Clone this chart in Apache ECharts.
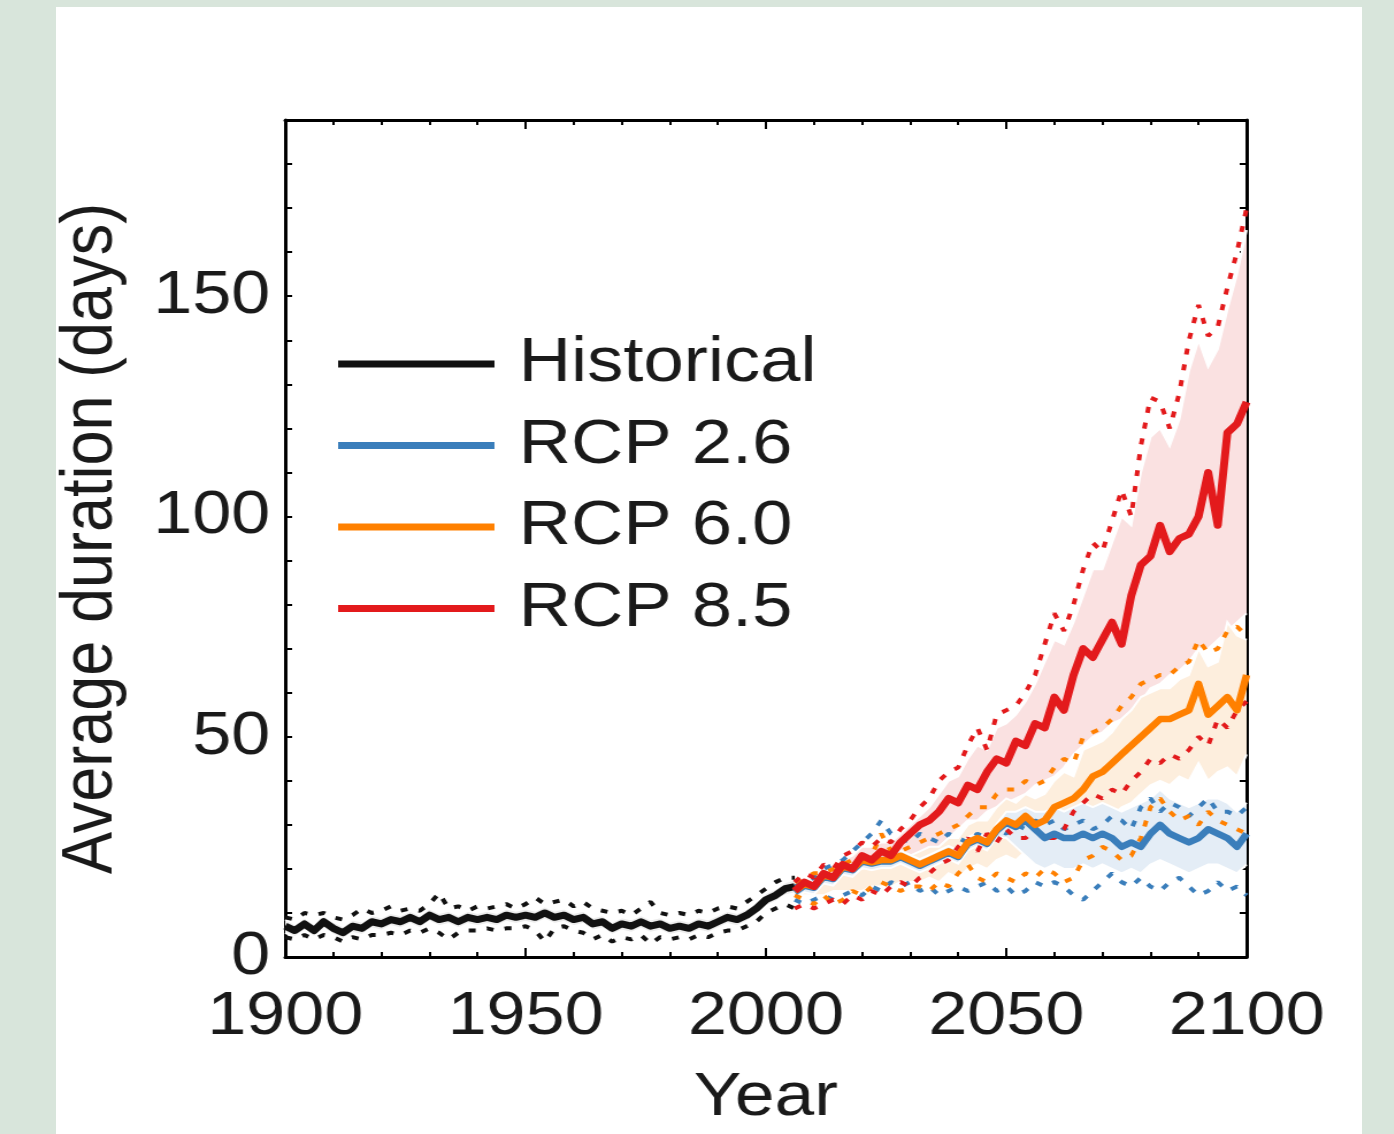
<!DOCTYPE html>
<html>
<head>
<meta charset="utf-8">
<script src="https://cdn.jsdelivr.net/npm/echarts@6/dist/echarts.min.js"></script>
<style>
  html, body { margin: 0; padding: 0; background: #d8e5db; width: 1394px; height: 1134px; overflow: hidden; }
  #panel { position: absolute; left: 56px; top: 7px; width: 1306px; height: 1127px; background: #fff; }
  /* the source figure is stretched sideways, so the chart is drawn narrower and scaled */
  #chart { position: absolute; left: 0; top: 0; width: 1212px; height: 1134px; transform: scaleX(1.15); transform-origin: 0 0; }
</style>
</head>
<body>
<div id="panel"></div>
<div id="chart"></div>
<script>
// ---- data ----
const histYears = [1900, 1902, 1904, 1906, 1908, 1910, 1912, 1914, 1916, 1918, 1920, 1922, 1924, 1926, 1928, 1930, 1932, 1934, 1936, 1938, 1940, 1942, 1944, 1946, 1948, 1950, 1952, 1954, 1956, 1958, 1960, 1962, 1964, 1966, 1968, 1970, 1972, 1974, 1976, 1978, 1980, 1982, 1984, 1986, 1988, 1990, 1992, 1994, 1996, 1998, 2000, 2002, 2004, 2006];
const histMean = [7, 6, 7.5, 6, 8, 6.5, 5.5, 7, 6.5, 8, 7.5, 8.5, 8, 9, 8, 9.5, 8.5, 9, 8, 9, 8.5, 9, 8.5, 9.5, 9, 9.5, 9, 10, 9, 9.5, 8.5, 9, 7.5, 8, 6.5, 7.5, 7, 8, 7, 7.5, 6.5, 7, 6.5, 7.5, 7, 8, 9, 8.5, 9.5, 11, 13, 14, 15.5, 16];
const histHigh = [9, 8.5, 10, 9.5, 10, 9, 8.5, 9.5, 11, 10, 10.5, 11.5, 10.5, 11, 10.5, 12, 14.5, 11, 11.5, 10.5, 11.5, 11, 11.5, 12, 11, 12, 13.5, 12, 12.5, 13, 11.5, 12.5, 11, 10.5, 10, 10.5, 9.5, 11, 12.5, 10, 9.5, 10, 9.5, 10.5, 10, 11, 11.5, 11, 12.5, 14, 15.5, 17, 18, 18];
const histLow = [4.5, 4, 5, 4, 5, 4.5, 3.5, 4.5, 4, 5, 5, 5.5, 5, 6, 5.5, 6.5, 5.5, 4, 5.5, 6, 6, 6.5, 6, 6.5, 6.5, 7, 6, 3.5, 6.5, 7, 6, 5.5, 4, 5, 3.5, 4.5, 4, 5, 3, 4.5, 4, 4.5, 4, 5, 4.5, 5.5, 6, 6, 7, 8, 10, 11, 12, 11];
const histBandHigh = [8.5, 7.5, 9, 7.5, 9.5, 8, 7, 8.5, 8, 9.5, 9, 10, 9.5, 10.5, 9.5, 11, 10, 10.5, 9.5, 10.5, 10, 10.5, 10, 11, 10.5, 11, 10.5, 11.5, 10.5, 11, 10, 10.5, 9, 9.5, 8, 9, 8.5, 9.5, 8.5, 9, 8, 8.5, 8, 9, 8.5, 9.5, 10.5, 10, 11, 12.5, 14.5, 15.5, 17, 17.5];
const histBandLow = [5.5, 4.5, 6, 4.5, 6.5, 5, 4, 5.5, 5, 6.5, 6, 7, 6.5, 7.5, 6.5, 8, 7, 7.5, 6.5, 7.5, 7, 7.5, 7, 8, 7.5, 8, 7.5, 8.5, 7.5, 8, 7, 7.5, 6, 6.5, 5, 6, 5.5, 6.5, 5.5, 6, 5, 5.5, 5, 6, 5.5, 6.5, 7.5, 7, 8, 9.5, 11.5, 12.5, 14, 14.5];

const futureYears = [2006, 2008, 2010, 2012, 2014, 2016, 2018, 2020, 2022, 2024, 2026, 2028, 2030, 2032, 2034, 2036, 2038, 2040, 2042, 2044, 2046, 2048, 2050, 2052, 2054, 2056, 2058, 2060, 2062, 2064, 2066, 2068, 2070, 2072, 2074, 2076, 2078, 2080, 2082, 2084, 2086, 2088, 2090, 2092, 2094, 2096, 2098, 2100];

// RCP 8.5
const rcp85Mean = [15, 17, 16, 19, 18, 21, 20, 23, 22, 24, 23, 26, 28, 30, 31, 33, 36, 35, 39, 38, 42, 45, 44, 49, 48, 53, 52, 59, 56, 64, 70, 68, 72, 76, 71, 82, 89, 91, 98, 92, 95, 96, 100, 110, 98, 119, 121, 126];
const rcp85BandHigh = [16, 18, 18, 20, 20, 22, 23, 25, 25, 26, 26, 28, 30, 32, 34, 37, 40, 41, 45, 48, 47, 52, 53, 55, 58, 62, 67, 72, 71, 76, 82, 88, 88, 94, 100, 98, 110, 118, 120, 116, 122, 133, 140, 134, 138, 147, 155, 165];
const rcp85BandLow = [13, 14, 14, 15, 16, 16, 17, 17, 18, 18, 19, 20, 21, 22, 23, 25, 27, 29, 31, 31, 33, 34, 35, 36, 37, 39, 40, 41, 43, 46, 48, 50, 51, 53, 54, 56, 58, 61, 62, 64, 65, 67, 70, 70, 72, 74, 76, 78];
const rcp85Max = [17, 19, 18, 21, 20, 23, 24, 26, 25, 27, 26, 29, 31, 34, 36, 40, 42, 43, 48, 52, 47, 55, 56, 57, 60, 64, 71, 78, 74, 80, 88, 94, 92, 99, 106, 100, 116, 127, 126, 120, 128, 140, 148, 141, 143, 152, 160, 170];
const rcp85Min = [11, 12, 11, 12, 13, 12, 14, 13, 15, 14, 16, 17, 16, 18, 19, 21, 22, 25, 27, 24, 28, 26, 29, 27, 27, 29, 27, 27, 29, 33, 35, 37, 36, 38, 37, 40, 42, 45, 44, 46, 45, 47, 50, 48, 54, 52, 56, 58];

// RCP 6.0
const rcp60Mean = [15, 16.5, 16, 18.5, 18, 20.5, 20, 22, 21.5, 22, 22, 23, 22, 21, 22, 23, 24, 23, 26, 27, 26, 29, 31, 30, 32, 30, 31, 34, 35, 36, 38, 41, 42, 44, 46, 48, 50, 52, 54, 54, 55, 56, 62, 55, 57, 59, 56, 64];
const rcp60BandHigh = [16, 17, 17, 18, 18, 19, 20, 20, 21, 21, 22, 22, 23, 24, 25, 25, 27, 27, 30, 31, 31, 34, 36, 35, 37, 36, 37, 40, 42, 41, 47, 48, 49, 51, 54, 56, 59, 60, 61, 61, 63, 64, 70, 66, 67, 76, 73, 72];
const rcp60BandLow = [14, 14, 14, 14, 15, 15, 15, 15, 16, 16, 16, 17, 17, 17, 18, 17, 19, 18, 20, 21, 20, 22, 23, 22, 24, 22, 23, 24, 26, 25, 29, 31, 30, 32, 34, 35, 37, 39, 40, 39, 41, 40, 44, 40, 42, 43, 41, 46];
const rcp60Max = [17, 18, 19, 19, 20, 21, 22, 22, 23, 28, 24, 24, 25, 26, 27, 28, 29, 30, 32, 34, 34, 37, 38, 38, 40, 39, 40, 43, 45, 44, 50, 51, 52, 54, 57, 59, 62, 63, 64, 64, 66, 67, 72, 69, 70, 74, 75, 73];
const rcp60Min = [14, 13, 12, 14, 12, 13, 15, 14, 16, 17, 16, 15, 16, 16, 15, 17, 16, 19, 21, 18, 17, 19, 18, 17, 19, 18, 20, 19, 17, 18, 22, 23, 25, 24, 22, 23, 27, 34, 36, 33, 31, 32, 30, 33, 31, 30, 29, 28];

// RCP 2.6
const rcp26Mean = [14.7, 16.2, 15.7, 18.2, 17.7, 20.2, 19.7, 21.7, 21.2, 21.7, 21.7, 22.7, 21.7, 20.7, 21.7, 22.7, 23.7, 22.7, 25.7, 26.7, 25.7, 28.7, 30.5, 29.5, 31, 29, 27, 28, 27, 27, 28, 27, 28, 27, 25, 26, 25, 28, 30, 28, 27, 26, 27, 29, 28, 27, 25, 28];
const rcp26BandHigh = [16.2, 17.7, 17.2, 19.7, 19.2, 21.7, 21.2, 23.2, 22.7, 23.2, 23.2, 24.2, 23.2, 22.2, 23.2, 24.2, 25.2, 24.2, 27.2, 28.2, 27.2, 30.2, 33, 33, 34, 33, 33, 34, 33, 34, 35, 34, 35, 34, 33, 34, 35, 36, 38, 36, 35, 34, 35, 36, 36, 35, 33, 35];
const rcp26BandLow = [13.2, 14.7, 14.2, 16.7, 16.2, 18.7, 18.2, 20.2, 19.7, 20.2, 20.2, 21.2, 20.2, 19.2, 20.2, 21.2, 22.2, 21.2, 24.2, 25.2, 24.2, 27.2, 27, 25, 23, 21, 20, 21, 20, 20, 21, 20, 21, 20, 19, 20, 19, 21, 22, 21, 20, 19, 20, 21, 21, 20, 19, 21];
const rcp26Max = [16, 17, 18, 20, 21, 22, 24, 26, 28, 31, 28, 27, 26, 28, 27, 26, 28, 27, 26, 28, 27, 29, 28, 30, 29, 31, 30, 31, 29, 30, 31, 29, 30, 32, 31, 29, 34, 36, 33, 35, 34, 32, 34, 36, 33, 33, 32, 34];
const rcp26Min = [13, 12, 13, 14, 13, 14, 15, 14, 16, 15, 17, 16, 17, 15, 16, 14, 15, 16, 15, 16, 17, 15, 16, 14, 15, 17, 16, 17, 16, 14, 13, 15, 17, 19, 17, 16, 18, 16, 15, 17, 18, 16, 14, 15, 17, 15, 16, 14];

const legendNames = ['Historical', 'RCP 2.6', 'RCP 6.0', 'RCP 8.5'];
const yTickLabels = [0, 50, 100, 150];

// ---- helpers ----
const FONT = "'Liberation Sans', Arial, Helvetica, sans-serif";
const TXT = '#1a1a1a';
const pairs = (xs, ys) => xs.map((x, i) => [x, ys[i]]);

// shaded range between two curves, edged with thin white lines
function band(xs, low, high, fill) {
  return {
    type: 'custom', silent: true, z: 1,
    data: pairs(xs, high),
    renderItem: function (params, api) {
      if (params.dataIndex !== 0) return null;
      const top = xs.map((x, i) => api.coord([x, high[i]]));
      const bot = xs.map((x, i) => api.coord([x, low[i]]));
      return {
        type: 'group',
        children: [
          { type: 'polygon', shape: { points: top.concat(bot.slice().reverse()) }, style: { fill: fill } },
          { type: 'polyline', shape: { points: top }, style: { stroke: '#fff', lineWidth: 2, fill: null } },
          { type: 'polyline', shape: { points: bot }, style: { stroke: '#fff', lineWidth: 2, fill: null } }
        ]
      };
    }
  };
}
function dotted(name, xs, ys, color) {
  return {
    name: name, type: 'line', symbol: 'none', silent: true, z: 2,
    data: pairs(xs, ys),
    lineStyle: { color: color, width: 4, type: [6, 10] }
  };
}
function meanLine(name, xs, ys, color, w) {
  return {
    name: name, type: 'line', symbol: 'none', z: 3,
    data: pairs(xs, ys),
    itemStyle: { color: color },
    lineStyle: { color: color, width: w, join: 'round' }
  };
}

const C_HIST = '#111111', C_26 = '#3a7ebb', C_60 = '#ff8000', C_85 = '#e31a1c';

const tickStyle = { color: '#000', width: 2 };
function xAx(pos, labels) {
  return {
    type: 'value', position: pos, min: 1900, max: 2100, interval: 50,
    axisLine: { show: true, onZero: false, lineStyle: { color: '#000', width: 3 } },
    axisTick: { show: true, inside: true, length: 9, lineStyle: tickStyle },
    minorTick: { show: true, splitNumber: 5, length: 5, lineStyle: tickStyle },
    splitLine: { show: false }, minorSplitLine: { show: false },
    axisLabel: { show: labels, fontSize: 61, margin: 30, color: TXT, fontFamily: FONT, formatter: v => String(v) },
    name: labels ? 'Year' : '', nameLocation: 'middle', nameGap: 110,
    nameTextStyle: { fontSize: 62, color: TXT, fontFamily: FONT }
  };
}
function yAx(pos, labels) {
  return {
    type: 'value', position: pos, min: 0, max: 190, interval: 10,
    axisLine: { show: true, onZero: false, lineStyle: { color: '#000', width: 3 } },
    axisTick: { show: true, inside: true, length: 6, lineStyle: tickStyle },
    splitLine: { show: false },
    axisLabel: {
      show: labels, fontSize: 61, margin: 13, color: TXT, fontFamily: FONT,
      formatter: v => yTickLabels.includes(v) ? String(v) : ''
    },
    name: labels ? 'Average duration (days)' : '', nameLocation: 'middle', nameGap: 137,
    nameTextStyle: { fontSize: 63, color: TXT, fontFamily: FONT }
  };
}

const chart = echarts.init(document.getElementById('chart'), null, { renderer: 'canvas' });

const option = {
  animation: false,
  backgroundColor: 'transparent',
  grid: { left: 248, top: 120, width: 836, height: 838, containLabel: false },
  xAxis: [xAx('bottom', true), xAx('top', false)],
  yAxis: [yAx('left', true), yAx('right', false)],
  legend: {
    data: legendNames,
    orient: 'vertical', left: 289, top: 325,
    icon: 'rect', itemWidth: 136, itemHeight: 7, itemGap: 13.5,
    selectedMode: false,
    textStyle: { fontSize: 63, lineHeight: 68, color: TXT, fontFamily: FONT, padding: [0, 0, 0, 16] }
  },
  series: [
    band(histYears, histBandLow, histBandHigh, '#ececec'),
    band(futureYears, rcp85BandLow, rcp85BandHigh, '#fae1e1'),
    band(futureYears, rcp60BandLow, rcp60BandHigh, '#fdeedd'),
    band(futureYears, rcp26BandLow, rcp26BandHigh, '#e4edf6'),
    dotted('hist-max', histYears, histHigh, C_HIST),
    dotted('hist-min', histYears, histLow, C_HIST),
    dotted('r26-max', futureYears, rcp26Max, C_26),
    dotted('r26-min', futureYears, rcp26Min, C_26),
    dotted('r60-max', futureYears, rcp60Max, C_60),
    dotted('r60-min', futureYears, rcp60Min, C_60),
    dotted('r85-max', futureYears, rcp85Max, C_85),
    dotted('r85-min', futureYears, rcp85Min, C_85),
    meanLine('Historical', histYears, histMean, C_HIST, 7),
    meanLine('RCP 2.6', futureYears, rcp26Mean, C_26, 6.5),
    meanLine('RCP 6.0', futureYears, rcp60Mean, C_60, 6.5),
    meanLine('RCP 8.5', futureYears, rcp85Mean, C_85, 7)
  ]
};

chart.setOption(option);
</script>
</body>
</html>
